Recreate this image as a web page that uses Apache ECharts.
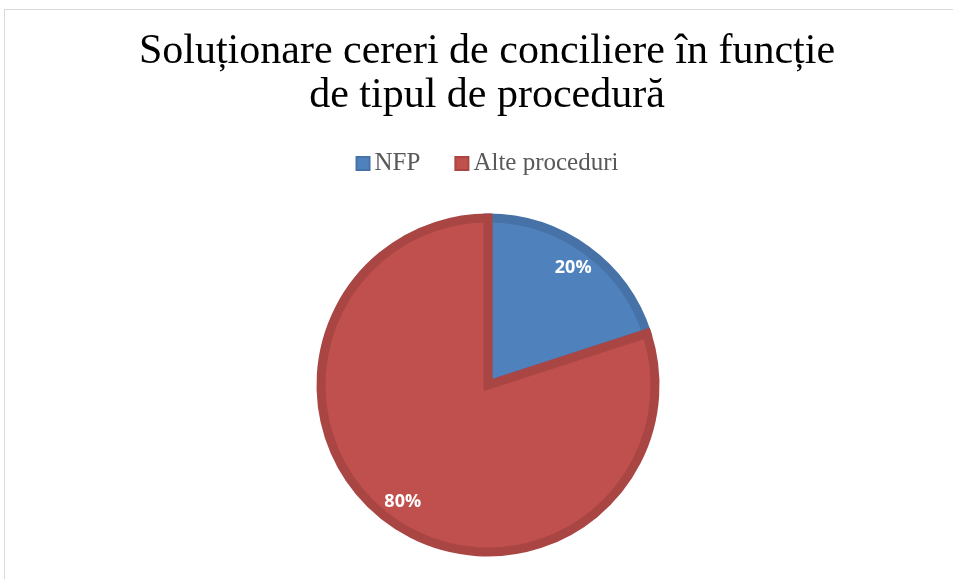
<!DOCTYPE html>
<html>
<head>
<meta charset="utf-8">
<script src="https://cdn.jsdelivr.net/npm/echarts@6/dist/echarts.min.js"></script>
<style>
  html, body { margin: 0; padding: 0; overflow: hidden; background: #fff; }
  #chart {
    position: absolute; left: 4px; top: 9px;
    width: 966px; height: 600px;
    border: 1px solid #d9d9d9; box-sizing: border-box;
  }
</style>
</head>
<body>
<div id="chart"></div>
<script>
const categories = ["NFP", "Alte proceduri"];
const values = [20, 80];
const colors = ["#4F81BD", "#C0504D"];
const borderColors = ["#4672A8", "#A94644"];

const chart = echarts.init(document.getElementById("chart"));

const pieData = categories.map((name, i) => ({
  name,
  value: values[i],
  itemStyle: { color: colors[i], borderColor: borderColors[i] },
}));

const option = {
  animation: false,
  title: {
    text: "Soluționare cereri de conciliere în funcție\nde tipul de procedură",
    left: "center",
    top: 15,
    textStyle: {
      fontFamily: "Liberation Serif",
      fontSize: 42,
      fontWeight: "normal",
      lineHeight: 44,
      color: "#000",
    },
  },
  legend: {
    top: 136,
    left: "center",
    icon: "rect",
    itemWidth: 13,
    itemHeight: 13,
    itemGap: 34,
    textStyle: { fontFamily: "Liberation Serif", fontSize: 25, color: "#595959" },
    data: categories,
  },
  series: [
    {
      type: "pie",
      center: [483, 375],
      radius: 167,
      startAngle: 90,
      clockwise: true,
      silent: true,
      label: { show: false },
      labelLine: { show: false },
      itemStyle: { borderWidth: 9, borderJoin: "miter" },
      data: pieData,
    },
    {
      // invisible ring only used to place the percent labels
      type: "pie",
      center: [483, 375],
      radius: [113, 171],
      startAngle: 90,
      clockwise: true,
      silent: true,
      itemStyle: { color: "transparent", borderWidth: 0 },
      label: {
        show: true,
        position: "inside",
        formatter: "{d}%",
        color: "#fff",
        fontFamily: "Open Sans",
        fontWeight: "bold",
        fontSize: 18,
      },
      labelLine: { show: false },
      data: categories.map((name, i) => ({ name, value: values[i] })),
    },
  ],
};

chart.setOption(option);
</script>
</body>
</html>
